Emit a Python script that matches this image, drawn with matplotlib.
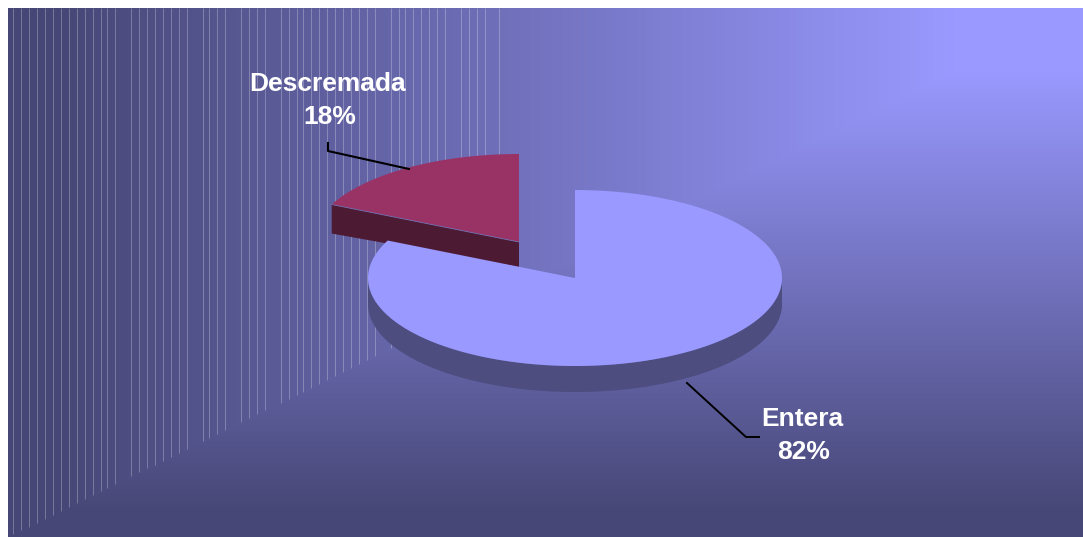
import numpy as np
import matplotlib
matplotlib.use("Agg")
import matplotlib.pyplot as plt

# datos
categorias = ["Entera", "Descremada"]
valores = [82, 18]
etiquetas = ["82%", "18%"]

# lineas verticales de la pared (posicion x en pixeles)
lineas_x = [13.3, 21.3, 29.3, 37.3, 45.3, 53.3, 61.3, 69.3, 77.3, 85.3, 93.3, 101.3, 107.3, 115.3,
            131.3, 139.3, 147.3, 155.3, 163.3, 171.3, 179.3, 187.3, 203.3, 209.3, 217.3, 225.3,
            241.3, 249.3, 257.3, 265.3, 281.3, 289.3, 297.3, 303.3, 311.3, 319.3, 327.3, 335.3,
            343.3, 351.3, 359.3, 367.3, 375.3, 391.3, 399.3, 405.3, 413.3, 421.3, 429.3, 437.3,
            445.3, 461.3, 469.3, 477.3, 485.3, 499.3]

W, H = 1083, 537
X0, Y0 = 8, 8
RX, RY = 207, 88


def arco(cx, cy, a1, a2, n=200):
    # angulos en grados, desde las 12 en sentido horario
    a = np.radians(np.linspace(a1, a2, n))
    return cx + RX * np.sin(a), cy - RY * np.cos(a)


fig = plt.figure(figsize=(W / 100, H / 100), dpi=100, facecolor="white")
ax = fig.add_axes([0, 0, 1, 1])
ax.set_xlim(0, W)
ax.set_ylim(H, 0)
ax.axis("off")

# fondo: degradado pared / piso
xx, yy = np.meshgrid(np.arange(X0, W) + 0.5, np.arange(Y0, H) + 0.5)
u = (xx - X0) / (W - X0)
v = (H - yy) / (H - Y0)
t = np.clip((np.minimum(u, v) - 0.05) / 0.83, 0, 1)
oscuro = np.array([0x47, 0x47, 0x77]) / 255
claro = np.array([0x99, 0x99, 0xff]) / 255
fondo = oscuro + (claro - oscuro) * t[..., None]
ax.imshow(fondo, extent=(X0, W, H, Y0), aspect="auto", zorder=0, interpolation="nearest")
ax.set_xlim(0, W)
ax.set_ylim(H, 0)

# lineas de la pared, terminan en la diagonal
for x in lineas_x:
    y_fin = H - (x - X0) / (W - X0) * (H - Y0)
    ax.plot([x, x], [Y0, y_fin], color="white", alpha=0.26, lw=0.72, zorder=1, solid_capstyle="butt")

# angulos a partir de los valores
total = sum(valores)
fin_entera = 360 * valores[0] / total

# Descremada (separada)
cx2, cy2 = 519, 242
x_a, y_a = arco(cx2, cy2, fin_entera, fin_entera)
x_b, y_b = x_a[0], y_a[0]
ax.fill([x_b, cx2, cx2, x_b], [y_b, cy2, cy2 + 25, y_b + 29], color="#4d1a33", lw=0, zorder=2)
xs, ys = arco(cx2, cy2, fin_entera, 360)
ax.fill(np.r_[cx2, xs], np.r_[cy2, ys], color="#993366", lw=0, zorder=3)
ax.plot([x_b, cx2], [y_b, cy2], color="#6f6fb0", lw=0.6, zorder=3)

# Entera
cx1, cy1 = 575, 278
prof = 26
xr, yr = arco(cx1, cy1, 90, 270)
ax.fill(np.r_[xr, xr[::-1]], np.r_[yr, yr[::-1] + prof], color="#4d4d80", lw=0, zorder=4)
xs, ys = arco(cx1, cy1, 0, fin_entera)
ax.fill(np.r_[cx1, xs], np.r_[cy1, ys], color="#9999ff", lw=0, zorder=5)

# lineas guia
ax.plot([328, 328, 409], [143, 151, 169], color="black", lw=1.5, zorder=6)
ax.plot([687, 746, 759], [383, 437, 437], color="black", lw=1.4, zorder=6)

# textos
fuente = dict(family="Liberation Sans", fontweight="bold", color="white", fontsize=19,
              ha="center", va="center", zorder=7)
ax.text(328, 84, categorias[1], **fuente)
ax.text(330, 117, etiquetas[1], **fuente)
ax.text(802, 419, categorias[0], **fuente)
ax.text(804, 452, etiquetas[0], **fuente)

fig.savefig("out.png", dpi=100)
